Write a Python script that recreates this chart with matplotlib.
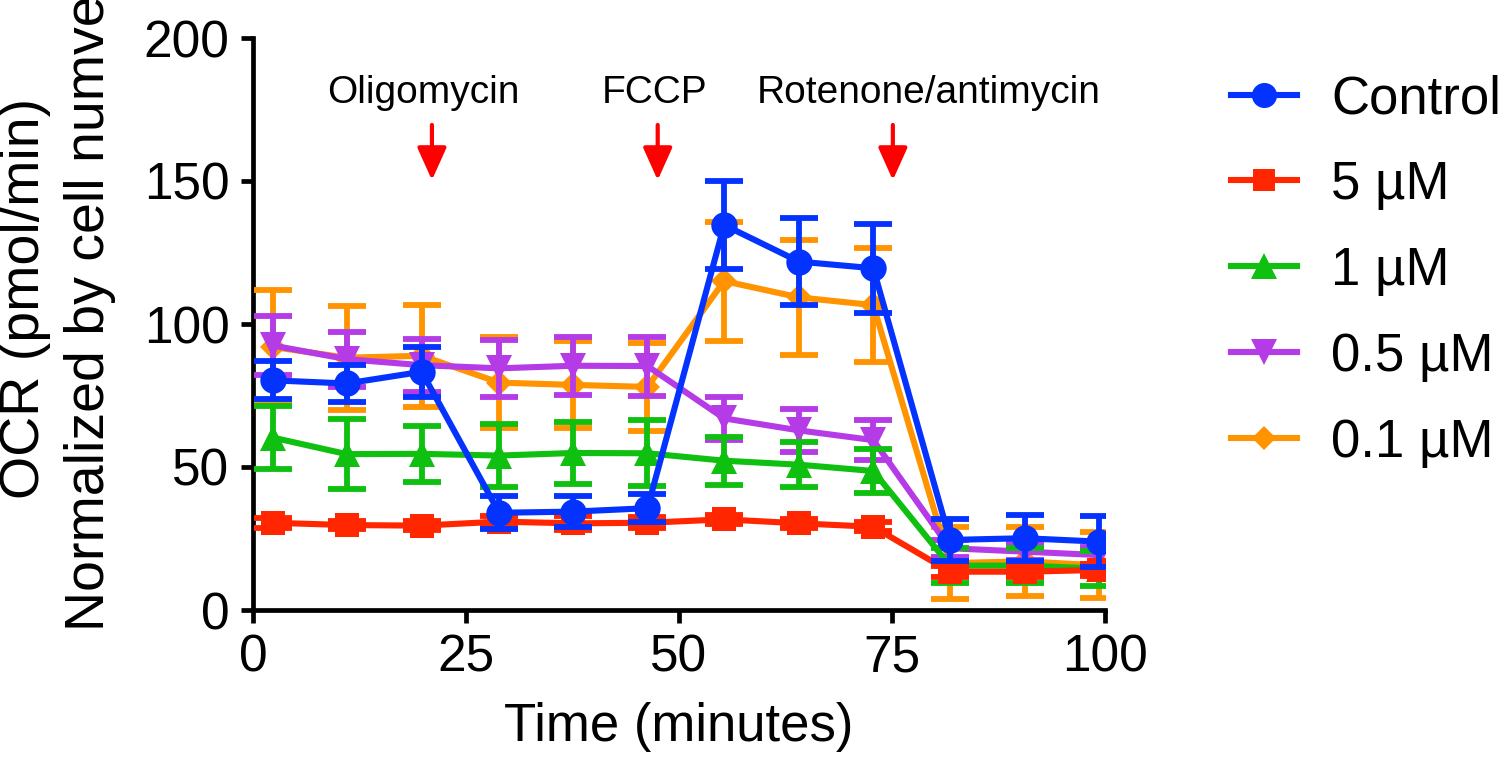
import matplotlib
matplotlib.use("Agg")
import matplotlib.pyplot as plt

plt.rcParams['font.family'] = ['Liberation Sans', 'DejaVu Sans']

time_min = [2.3, 11.0, 19.8, 28.9, 37.6, 46.3, 55.3, 64.1, 72.8, 81.8, 90.6, 99.3]

control = [80.3, 79.2, 83.3, 34.0, 34.4, 35.6, 134.6, 121.8, 119.5, 24.5, 25.1, 23.9]
control_err = [6.6, 6.6, 8.7, 5.7, 5.4, 5.0, 15.5, 15.3, 15.6, 7.3, 8.0, 9.0]

um5 = [30.5, 29.7, 29.5, 30.9, 30.3, 30.5, 31.7, 30.3, 29.1, 13.4, 13.4, 14.0]
um5_err = [1.8, 1.5, 1.5, 2.0, 2.5, 2.0, 1.5, 1.5, 1.5, 2.0, 2.0, 2.0]

um1 = [60.3, 54.5, 54.6, 54.0, 54.9, 54.8, 52.2, 50.8, 48.6, 15.5, 15.5, 14.5]
um1_err = [11.1, 12.2, 9.7, 11.0, 10.9, 11.6, 8.4, 7.9, 7.7, 6.1, 6.1, 6.2]

um05 = [92.5, 87.7, 85.6, 84.5, 85.4, 85.3, 67.0, 62.8, 59.4, 21.6, 20.4, 19.2]
um05_err = [10.3, 9.6, 9.3, 9.9, 10.2, 10.3, 7.6, 7.4, 7.0, 3.0, 3.0, 3.0]

um01 = [92.0, 88.2, 88.9, 79.5, 78.7, 78.0, 115.0, 109.3, 106.6, 16.4, 17.0, 15.6]
um01_err = [20.0, 18.2, 17.8, 16.0, 15.2, 15.3, 20.8, 20.1, 20.0, 12.7, 12.1, 11.5]

labels = ['Control', '5 µM', '1 µM', '0.5 µM', '0.1 µM']
injections = ['Oligomycin', 'FCCP', 'Rotenone/antimycin']
injection_times = [21.0, 47.5, 75.1]
injection_text_x = [20.0, 47.1, 79.3]

series = [
    (control, control_err, '#0433FF', 'o', 19, 10),
    (um5, um5_err, '#FF2600', 's', 17, 8),
    (um1, um1_err, '#10C010', '^', 19, 6),
    (um05, um05_err, '#B53BE6', 'v', 19, 5),
    (um01, um01_err, '#FF9300', 'D', 13, 4),
]

fig = plt.figure(figsize=(15, 7.74), dpi=100)
ax = fig.add_axes([253/1500, 1-610/774, (1105-253)/1500, (610-38)/774])

handles = []
for (vals, errs, col, mk, ms, z), lab in zip(series, labels):
    ax.errorbar(time_min, vals, yerr=errs, fmt='none', ecolor=col, elinewidth=4.2,
                capsize=14, capthick=4.2, zorder=z)
    h, = ax.plot(time_min, vals, color=col, lw=4.4, marker=mk, markersize=ms,
                 markeredgewidth=0, label=lab, zorder=z + 0.5)
    handles.append(h)

ax.set_xlim(0, 100)
ax.set_ylim(0, 200)
ax.set_xticks([0, 25, 50, 75, 100])
ax.set_yticks([0, 50, 100, 150, 200])
for s in ['top', 'right']:
    ax.spines[s].set_visible(False)
for s in ['left', 'bottom']:
    ax.spines[s].set_linewidth(3.4)
ax.tick_params(axis='both', width=3.4, length=9, labelsize=37, pad=8)

ax.set_xlabel('Time (minutes)', fontsize=38, labelpad=14)
fig.text(25/1500, 1-298/774, 'OCR (pmol/min)', rotation=90, fontsize=40,
         ha='center', va='center')
fig.text(90/1500, 1-304/774, 'Normalized by cell numver', rotation=90, fontsize=40,
         ha='center', va='center')

for name, tx, t in zip(injections, injection_text_x, injection_times):
    ax.text(tx, 180.8, name, fontsize=28, ha='center', va='center', clip_on=False)
    ax.annotate('', xy=(t, 150.3), xytext=(t, 169.6),
                arrowprops=dict(arrowstyle='-|>,head_width=0.45,head_length=1.0',
                                color='#FF0000', lw=3, mutation_scale=20,
                                shrinkA=0, shrinkB=0))

fig.legend(handles=handles, labels=labels, loc='upper left',
           bbox_to_anchor=(1231/1500, 1-74/774), frameon=False, fontsize=38,
           handlelength=1.25, handletextpad=0.65, labelspacing=0.68, borderpad=0,
           borderaxespad=0, markerscale=0.95)

fig.savefig('out.png', dpi=100)
